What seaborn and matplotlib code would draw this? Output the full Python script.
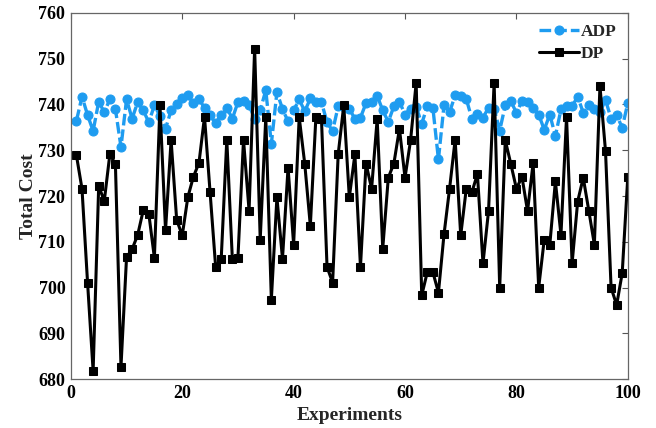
import numpy as np
import pandas as pd
import matplotlib
matplotlib.use("Agg")
import matplotlib.pyplot as plt
import seaborn as sns

# experiment index 1..100
experiments = list(range(1, 101))

adp_cost = [736.4, 741.7, 737.7, 734.2, 740.6, 738.3, 741.1, 739.0, 730.7, 741.1,
            736.9, 740.5, 738.7, 736.1, 739.8, 737.5, 734.7, 738.7, 740.2, 741.4,
            742.0, 740.3, 741.1, 739.3, 737.7, 735.9, 737.7, 739.3, 736.9, 740.5,
            740.8, 739.8, 736.9, 738.7, 743.1, 731.4, 742.7, 739.0, 736.3, 738.7,
            741.1, 738.5, 741.3, 740.6, 740.5, 736.1, 734.2, 739.6, 739.4, 739.0,
            736.9, 737.1, 740.3, 740.5, 741.9, 738.7, 736.2, 739.6, 740.6, 737.8,
            739.1, 739.5, 735.8, 739.6, 739.3, 728.0, 739.8, 738.3, 742.0, 741.8,
            741.2, 736.9, 738.0, 737.1, 739.3, 739.1, 734.3, 739.8, 740.7, 738.2,
            740.7, 740.6, 739.3, 737.8, 734.5, 737.8, 733.1, 738.9, 739.6, 739.6,
            741.7, 738.2, 739.8, 739.0, 738.3, 741.0, 736.9, 737.7, 734.9, 740.3]

dp_cost = [728.9, 721.6, 701.1, 681.8, 722.2, 718.9, 729.1, 727.0, 682.7, 706.6,
           708.4, 711.5, 716.9, 716.1, 706.5, 739.8, 712.5, 732.2, 714.8, 711.4,
           719.7, 724.2, 727.2, 737.3, 720.8, 704.5, 706.3, 732.3, 706.2, 706.5,
           732.3, 716.8, 752.2, 710.5, 737.2, 697.4, 719.7, 706.3, 726.2, 709.4,
           737.2, 727.0, 713.5, 737.3, 736.8, 704.5, 701.1, 729.1, 739.8, 719.7,
           729.1, 704.5, 727.1, 721.6, 736.8, 708.5, 724.0, 727.1, 734.7, 724.0,
           732.2, 744.7, 698.3, 703.4, 703.4, 698.9, 711.6, 721.6, 732.3, 711.4,
           721.6, 720.8, 724.8, 705.3, 716.8, 744.7, 700.0, 732.2, 727.0, 721.6,
           724.2, 716.7, 727.2, 700.0, 710.5, 709.4, 723.2, 711.5, 737.3, 705.3,
           718.8, 724.0, 716.8, 709.4, 744.0, 729.8, 700.0, 696.2, 703.2, 724.2]

df_adp = pd.DataFrame({"Experiments": experiments, "Total Cost": adp_cost})
df_dp = pd.DataFrame({"Experiments": experiments, "Total Cost": dp_cost})

sns.set_style("white")
plt.rcParams['font.family'] = ['Liberation Serif', 'DejaVu Serif']
plt.rcParams['font.weight'] = 'bold'
plt.rcParams['axes.labelweight'] = 'bold'

BLUE = "#1e9cf0"

fig = plt.figure(figsize=(6.56, 4.28), dpi=100)
ax = fig.add_axes([0.108, 0.114, 0.849, 0.856])

sns.lineplot(data=df_adp, x="Experiments", y="Total Cost", ax=ax, color=BLUE,
             linestyle=(0, (3.5, 1.2)), linewidth=2.4, marker="o", markersize=6.5,
             markeredgecolor=BLUE, markerfacecolor=BLUE, label="ADP")
sns.lineplot(data=df_dp, x="Experiments", y="Total Cost", ax=ax, color="black",
             linewidth=2.2, marker="s", markersize=5.5, markeredgecolor="black",
             markerfacecolor="black", label="DP")

ax.set_xlim(0, 100)
ax.set_ylim(680, 760)
ax.set_xticks(np.arange(0, 101, 20))
ax.set_yticks(np.arange(680, 761, 10))
ax.tick_params(direction="in", top=True, right=True, length=4, width=0.8,
               colors="#555555", labelcolor="black", labelsize=13, pad=4)
for lab in ax.get_xticklabels() + ax.get_yticklabels():
    lab.set_fontweight("bold")
for sp in ax.spines.values():
    sp.set_color("#666666")
    sp.set_linewidth(0.9)

ax.set_xlabel("Experiments", fontsize=14, fontweight="bold", labelpad=4)
ax.set_ylabel("Total Cost", fontsize=14, fontweight="bold", labelpad=1)

leg = ax.legend(loc="upper right", frameon=False, fontsize=12.5, handlelength=2.3,
                handletextpad=0.1, labelspacing=0.3, borderaxespad=0.25)
for t in leg.get_texts():
    t.set_fontweight("bold")

fig.savefig("out.png", dpi=100)
